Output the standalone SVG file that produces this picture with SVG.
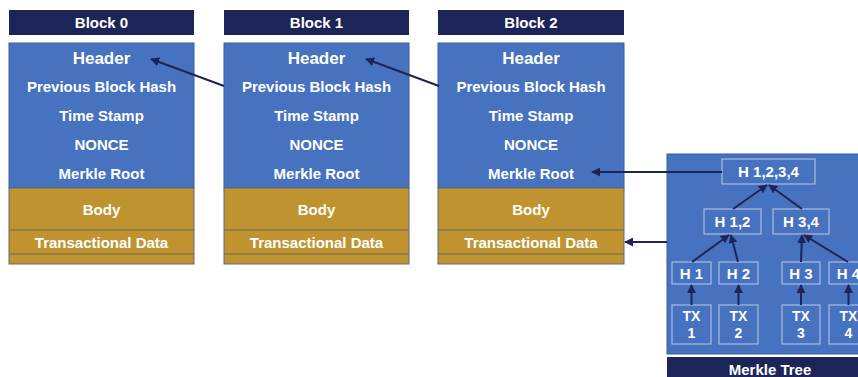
<svg xmlns="http://www.w3.org/2000/svg" width="858" height="377" viewBox="0 0 858 377">
<defs>
<style>
.title{fill:#1d2558}
.hdr{fill:#4672bf;stroke:#3d5d99;stroke-width:1}
.body{fill:#bf932f;stroke:#5f6a7a;stroke-width:1}
.sep{stroke:#6b6a5a;stroke-width:1}
.t{font-family:"Liberation Sans",Arial,sans-serif;font-weight:bold;fill:#fff;text-anchor:middle}
.tt{font-size:15px}
.th{font-size:17px}
.tr{font-size:15px}
.tx{font-size:14px}
.node{fill:none;stroke:#a9bde3;stroke-width:1.2}
.con{stroke:#1d2558;stroke-width:2;fill:none}
</style>
<marker id="ah" viewBox="0 0 10 10" refX="9" refY="5" markerWidth="4.5" markerHeight="4.5" orient="auto-start-reverse" markerUnits="strokeWidth">
<path d="M0,0 L10,5 L0,10 z" fill="#1d2558"/>
</marker>
</defs>
<rect width="858" height="377" fill="#fff"/>

<g id="block0">
<rect class="title" x="9" y="10" width="185" height="25"/>
<text class="t tt" x="101.5" y="28">Block 0</text>
<rect class="hdr" x="9" y="43" width="185" height="145"/>
<rect class="body" x="9" y="188" width="185" height="76"/>
<line class="sep" x1="9" y1="230" x2="194" y2="230"/>
<line class="sep" x1="9" y1="254" x2="194" y2="254"/>
<text class="t th" x="101.5" y="64">Header</text>
<text class="t tr" x="101.5" y="91.5">Previous Block Hash</text>
<text class="t tr" x="101.5" y="120.5">Time Stamp</text>
<text class="t tr" x="101.5" y="149.5">NONCE</text>
<text class="t tr" x="101.5" y="178.5">Merkle Root</text>
<text class="t tr" x="101.5" y="214.5">Body</text>
<text class="t tr" x="101.5" y="247.5">Transactional Data</text>
</g>

<g id="block1">
<rect class="title" x="224" y="10" width="185" height="25"/>
<text class="t tt" x="316.5" y="28">Block 1</text>
<rect class="hdr" x="224" y="43" width="185" height="145"/>
<rect class="body" x="224" y="188" width="185" height="76"/>
<line class="sep" x1="224" y1="230" x2="409" y2="230"/>
<line class="sep" x1="224" y1="254" x2="409" y2="254"/>
<text class="t th" x="316.5" y="64">Header</text>
<text class="t tr" x="316.5" y="91.5">Previous Block Hash</text>
<text class="t tr" x="316.5" y="120.5">Time Stamp</text>
<text class="t tr" x="316.5" y="149.5">NONCE</text>
<text class="t tr" x="316.5" y="178.5">Merkle Root</text>
<text class="t tr" x="316.5" y="214.5">Body</text>
<text class="t tr" x="316.5" y="247.5">Transactional Data</text>
</g>

<g id="block2">
<rect class="title" x="438" y="10" width="186" height="25"/>
<text class="t tt" x="531" y="28">Block 2</text>
<rect class="hdr" x="438" y="43" width="186" height="145"/>
<rect class="body" x="438" y="188" width="186" height="76"/>
<line class="sep" x1="438" y1="230" x2="624" y2="230"/>
<line class="sep" x1="438" y1="254" x2="624" y2="254"/>
<text class="t th" x="531" y="64">Header</text>
<text class="t tr" x="531" y="91.5">Previous Block Hash</text>
<text class="t tr" x="531" y="120.5">Time Stamp</text>
<text class="t tr" x="531" y="149.5">NONCE</text>
<text class="t tr" x="531" y="178.5">Merkle Root</text>
<text class="t tr" x="531" y="214.5">Body</text>
<text class="t tr" x="531" y="247.5">Transactional Data</text>
</g>

<g id="merkle-tree">
<rect class="hdr" x="667" y="154" width="210" height="200" stroke="none"/>
<rect class="title" x="667" y="357" width="210" height="22"/>
<text class="t tt" x="770" y="374.5">Merkle Tree</text>
</g>
<g id="h1234"><rect class="node" x="722" y="159" width="93" height="25"/><text class="t tr" x="768.5" y="177">H 1,2,3,4</text></g>
<g id="h12"><rect class="node" x="704" y="209" width="57" height="25"/><text class="t tr" x="732.5" y="227">H 1,2</text></g>
<g id="h34"><rect class="node" x="773" y="209" width="56" height="25"/><text class="t tr" x="801" y="227">H 3,4</text></g>
<g id="h1"><rect class="node" x="672" y="262" width="39" height="22"/><text class="t tr" x="691.5" y="278.5">H 1</text></g>
<g id="h2"><rect class="node" x="719" y="262" width="39" height="22"/><text class="t tr" x="738.5" y="278.5">H 2</text></g>
<g id="h3"><rect class="node" x="782" y="262" width="38" height="22"/><text class="t tr" x="801" y="278.5">H 3</text></g>
<g id="h4"><rect class="node" x="829" y="262" width="39" height="22"/><text class="t tr" x="848.5" y="278.5">H 4</text></g>
<g id="tx1"><rect class="node" x="672" y="305" width="39" height="39"/><text class="t tx" x="691.5" y="321">TX</text><text class="t tx" x="691.5" y="338">1</text></g>
<g id="tx2"><rect class="node" x="719" y="305" width="39" height="39"/><text class="t tx" x="738.5" y="321">TX</text><text class="t tx" x="738.5" y="338">2</text></g>
<g id="tx3"><rect class="node" x="782" y="305" width="38" height="39"/><text class="t tx" x="801" y="321">TX</text><text class="t tx" x="801" y="338">3</text></g>
<g id="tx4"><rect class="node" x="829" y="305" width="39" height="39"/><text class="t tx" x="848.5" y="321">TX</text><text class="t tx" x="848.5" y="338">4</text></g>

<g id="connectors">
<line class="con" x1="224" y1="86" x2="151" y2="59" marker-end="url(#ah)"/>
<line class="con" x1="439" y1="86" x2="366" y2="59" marker-end="url(#ah)"/>
<line class="con" x1="722" y1="172" x2="592" y2="172" marker-end="url(#ah)"/>
<line class="con" x1="667" y1="242" x2="625" y2="242" marker-end="url(#ah)"/>
<line class="con" x1="733" y1="209" x2="767" y2="185" marker-end="url(#ah)"/>
<line class="con" x1="802" y1="209" x2="769" y2="185" marker-end="url(#ah)"/>
<line class="con" x1="692" y1="262" x2="729" y2="235" marker-end="url(#ah)"/>
<line class="con" x1="738" y1="262" x2="731" y2="235" marker-end="url(#ah)"/>
<line class="con" x1="801" y1="262" x2="802" y2="235" marker-end="url(#ah)"/>
<line class="con" x1="848" y1="262" x2="804" y2="235" marker-end="url(#ah)"/>
<line class="con" x1="691.5" y1="305" x2="691.5" y2="285" marker-end="url(#ah)"/>
<line class="con" x1="738.5" y1="305" x2="738.5" y2="285" marker-end="url(#ah)"/>
<line class="con" x1="801" y1="305" x2="801" y2="285" marker-end="url(#ah)"/>
<line class="con" x1="848.5" y1="305" x2="848.5" y2="285" marker-end="url(#ah)"/>
</g>
</svg>
